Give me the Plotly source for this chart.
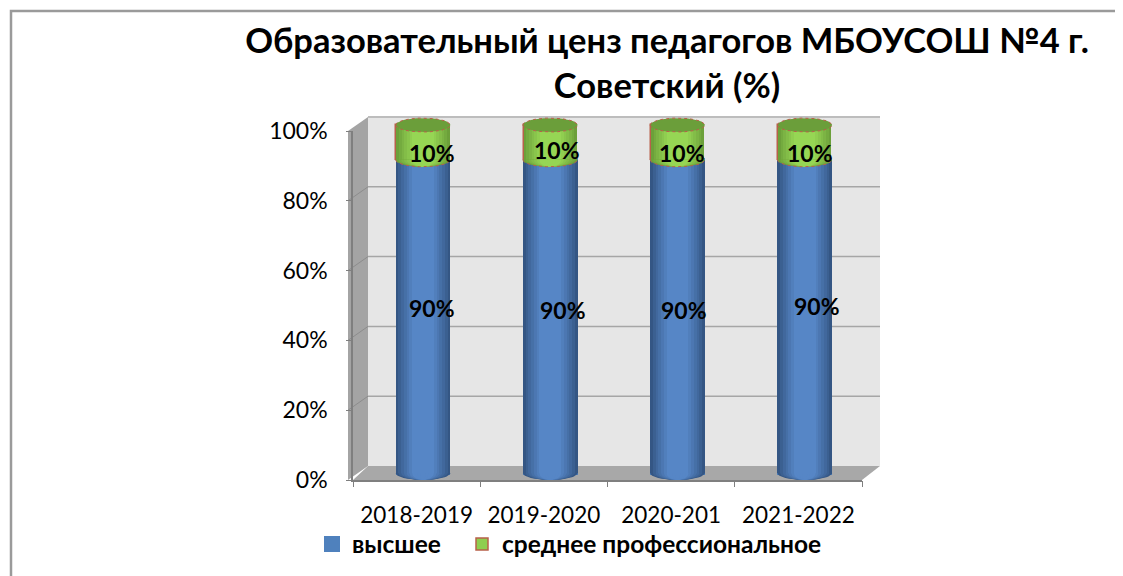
import math
import plotly.graph_objects as go

years = ["2018-2019", "2019-2020", "2020-201", "2021-2022"]
pos = [0, 1, 2, 3]
higher = [90, 90, 90, 90]
secondary = [10, 10, 10, 10]
y_ticks = [0, 20, 40, 60, 80, 100]
FONT = "Lato"
OFF = 8  # default page margin of the written html
W, H = 1123 - OFF, 576 - OFF
L, R, T, B = 353 - OFF, 862 - OFF, 131 - OFF, 480 - OFF
COL_TOP = 111 - OFF  # the column subplot is taller than the axis so the 3D caps are not clipped
BAR_W = 0.43
RY = 2.0
BANDS = 10
UNIT = (R - L) / 4

def px(x): return (x - OFF) / W
def py(y): return 1 - (y - OFF) / H
def mix(a, b, t): return "#%02x%02x%02x" % tuple(round(a[i] + (b[i] - a[i]) * t) for i in range(3))
BLUE_EDGE, BLUE_MID = (52, 86, 132), (86, 134, 198)
GREEN_EDGE, GREEN_MID = (108, 160, 58), (150, 214, 84)
RED = "#b8604a"

def half_ellipse(c, hw, y, upper=False, n=24):
    xs, ys = [], []
    for k in range(n + 1):
        a = math.pi * k / n
        s = 1 if upper else -1
        xs.append(c - hw * math.cos(a)); ys.append(y + s * RY * math.sin(a))
    return xs, ys

fig = go.Figure()
# carrier for the value and category axes
fig.add_trace(go.Scatter(x=years, y=higher, mode="markers", marker_opacity=0, showlegend=False, hoverinfo="skip"))
fig.add_trace(go.Scatter(x=pos, y=higher, xaxis="x3", mode="markers", marker_opacity=0, showlegend=False, hoverinfo="skip"))
# named base columns: these carry the legend entries
fig.add_trace(go.Bar(x=pos, y=higher, base=0, width=BAR_W - 4 / UNIT, xaxis="x2", yaxis="y2", name="высшее",
                     marker=dict(color="#4f81bd", line=dict(width=4, color="#4f81bd")),
                     hoverinfo="skip", legend="legend"))
fig.add_trace(go.Bar(x=pos, y=secondary, base=higher, width=BAR_W - 1.5 / UNIT, xaxis="x2", yaxis="y2",
                     name="среднее профессиональное",
                     marker=dict(color="#8fce4f", line=dict(width=1.5, color=RED)),
                     hoverinfo="skip", legend="legend2"))
for band in range(BANDS):
    f = 1 - band / BANDS
    hw = BAR_W / 2 * f
    t = min(1.0, (1 - f) / 0.6) ** 0.9
    blue = mix(BLUE_EDGE, BLUE_MID, t)
    green = mix(GREEN_EDGE, GREEN_MID, t)
    gf = f * (1 - 1.5 / (UNIT * BAR_W))
    fig.add_trace(go.Bar(x=pos, y=higher, base=0, width=BAR_W * f, xaxis="x2", yaxis="y2",
                         marker=dict(color=blue, line_width=0), showlegend=False, hoverinfo="skip"))
    fig.add_trace(go.Bar(x=pos, y=secondary, base=higher, width=BAR_W * gf, xaxis="x2", yaxis="y2",
                         marker=dict(color=green, line_width=0), showlegend=False, hoverinfo="skip"))
    # rounded lower edges of the cylinders
    for vals, col in (([0] * 4, blue), (higher, green)):
        xs, ys = [], []
        for i, p in enumerate(pos):
            a, b = half_ellipse(p, hw, vals[i])
            xs += a + [None]; ys += b + [None]
        fig.add_trace(go.Scatter(x=xs, y=ys, xaxis="x2", yaxis="y2", mode="lines", line_width=0, fill="toself",
                                 fillcolor=col, showlegend=False, hoverinfo="skip", cliponaxis=False))

# cylinder outlines and caps
tops = [h + s for h, s in zip(higher, secondary)]
xs, ys = [], []
for i, p in enumerate(pos):
    a, b = half_ellipse(p, BAR_W / 2, tops[i], True)
    c, d = half_ellipse(p, BAR_W / 2, tops[i], False)
    xs += a + c[::-1] + [None]; ys += b + d[::-1] + [None]
fig.add_trace(go.Scatter(x=xs, y=ys, xaxis="x2", yaxis="y2", mode="lines", fill="toself", fillcolor="#6b9e3a",
                         line=dict(color=RED, width=1, dash="dot"), showlegend=False, hoverinfo="skip", cliponaxis=False))
xs, ys = [], []
for i, p in enumerate(pos):
    a, b = half_ellipse(p, BAR_W / 2, higher[i])
    xs += a + [None]; ys += b + [None]
fig.add_trace(go.Scatter(x=xs, y=ys, xaxis="x2", yaxis="y2", mode="lines",
                         line=dict(color=RED, width=1, dash="dot"), showlegend=False, hoverinfo="skip", cliponaxis=False))

shapes = []
def poly(pts, fill):
    path = "M" + "L".join(f"{px(x):.5f},{py(y):.5f}" for x, y in pts) + "Z"
    shapes.append(dict(type="path", xref="paper", yref="paper", path=path, fillcolor=fill,
                       line=dict(color="rgba(0,0,0,0)", width=0), layer="below"))
poly([(368, 117), (880, 117), (880, 466), (368, 466)], "#e6e6e6")
poly([(348, 131), (368, 117), (368, 466), (348, 480)], "#a4a4a4")
poly([(353, 480), (368, 466), (880, 466), (862, 480)], "#a8a8a8")
shapes.append(dict(type="line", xref="paper", yref="paper", x0=px(368), x1=px(880), y0=py(117), y1=py(117),
                   line=dict(color="#bdbdbd", width=2), layer="below"))
for v in y_ticks[1:-1]:
    gy = 466 - 349 * v / 100
    shapes.append(dict(type="line", xref="paper", yref="paper", x0=px(368), x1=px(880), y0=py(gy), y1=py(gy),
                       line=dict(color="#a6a6a6", width=1.5), layer="below"))
    ty = 480 - 349 * v / 100
    shapes.append(dict(type="line", xref="paper", yref="paper", x0=px(348), x1=px(368), y0=py(ty), y1=py(gy),
                       line=dict(color="#8c8c8c", width=1), layer="below"))
# outer frame
shapes.append(dict(type="path", xref="paper", yref="paper",
                   path=f"M{px(11)},{py(576)}L{px(11)},{py(11)}L{px(1123)},{py(11)}",
                   line=dict(color="#9a9a9a", width=2.5), layer="below"))

# data labels: (xshift, yshift) of each label from its column segment
offs_hi = [(9, 8), (13, 6), (7, 6), (12, 10)]
offs_lo = [(9, -11), (7, -8), (5, -11), (5, -11)]
ann = []
lab = dict(family=FONT, size=23, color="#000000", weight="bold")
for i, p in enumerate(pos):
    ann.append(dict(x=p, y=higher[i] / 2, xref="x2", yref="y2", text=f"{higher[i]}%", showarrow=False,
                    xshift=offs_hi[i][0], yshift=offs_hi[i][1], font=lab))
    ann.append(dict(x=p, y=higher[i] + secondary[i] / 2, xref="x2", yref="y2", text=f"{secondary[i]}%", showarrow=False,
                    xshift=offs_lo[i][0], yshift=offs_lo[i][1], font=lab))

leg_font = dict(family=FONT, size=24.5, color="#000000", weight="bold")
def legend_at(x):
    return dict(orientation="h", x=px(x), xanchor="left",
                y=py(544), yanchor="middle", itemclick=False, itemdoubleclick=False,
                font=leg_font, bgcolor="rgba(0,0,0,0)")

fig.update_layout(
    width=W, height=H, autosize=False, barmode="overlay", bargap=0,
    paper_bgcolor="#ffffff", plot_bgcolor="rgba(0,0,0,0)",
    margin=dict(l=0, r=0, t=0, b=0, pad=0, autoexpand=False),
    font=dict(family=FONT, size=22, color="#000000"),
    title=dict(text="<b>Образовательный ценз педагогов МБОУСОШ №4 г.<br>Советский (%)</b>",
               x=(667 - OFF) / W, xanchor="center", y=1 - (53 - OFF) / H, yanchor="middle",
               font=dict(family=FONT, size=34.5, color="#000000")),
    xaxis=dict(domain=[L / W, R / W], type="category", categoryorder="array", categoryarray=years, range=[-0.5, 3.5],
               tickmode="array", tickvals=years, ticktext=years, ticks="", showgrid=False, ticklabelstandoff=14,
               showline=True, linecolor="#7f7f7f", linewidth=1.5, tickfont=dict(size=22.5, color="#000000"), fixedrange=True),
    yaxis=dict(domain=[1 - B / H, 1 - T / H], range=[0, 100], tickmode="array", tickvals=y_ticks, ticktext=[f"{v}%" for v in y_ticks],
               ticks="outside", ticklen=5, tickcolor="#7f7f7f", showgrid=False, zeroline=False, ticklabelstandoff=14,
               showline=True, linecolor="#7f7f7f", linewidth=1.5, tickfont=dict(size=23, color="#000000"), fixedrange=True),
    xaxis2=dict(domain=[L / W, R / W], anchor="y2", range=[-0.55, 3.45], visible=False, fixedrange=True),
    yaxis2=dict(domain=[1 - B / H, 1 - COL_TOP / H], anchor="x2", range=[-2, -2 + (B - COL_TOP) / 3.48], visible=False, fixedrange=True),
    xaxis3=dict(overlaying="x", range=[-0.5, 3.5], tickmode="array", tickvals=[-0.5, 0.5, 1.5, 2.5, 3.5],
                ticks="outside", ticklen=6, tickcolor="#7f7f7f", showticklabels=False, showgrid=False,
                side="bottom", anchor="y", fixedrange=True),
    legend=legend_at(312), legend2=legend_at(462),
    shapes=shapes, annotations=ann, showlegend=True,
)
fig.write_html("out.html", config=dict(displayModeBar=False))
